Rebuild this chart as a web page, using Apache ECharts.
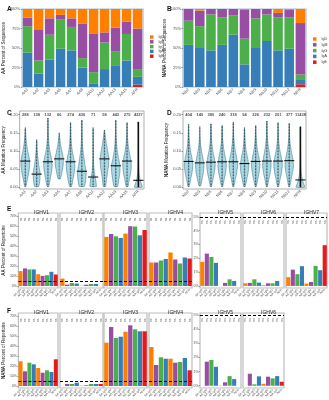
<!DOCTYPE html>
<html>
<head>
<meta charset="utf-8">
<script src="https://cdn.jsdelivr.net/npm/echarts@6/dist/echarts.min.js"></script>
<style>
html, body { margin: 0; padding: 0; background: #fff; }
#main { width: 329px; height: 400px; }
</style>
</head>
<body>
<div id="main"></div>
<script>
// isotype colours (legend order, top to bottom)
var isoNames = ['IgD', 'IgM', 'IgG', 'IgA', 'IgE'];
var isoColors = { IgD: '#FF7F00', IgM: '#984EA3', IgG: '#4DAF4A', IgA: '#377EB8', IgE: '#E41A1C' };

// panel A / B : percent of sequences
var aSamples = ['AA1', 'AA2', 'AA3', 'AA5', 'AA7', 'AA8', 'AA11', 'AA12', 'AA13', 'AA15', 'AFR'];
var aIgE = [0, 0, 0, 0, 0, 0, 0, 0, 0, 0, 3];
var aIgA = [44, 17, 35, 49, 47, 25, 4, 23, 27, 34, 10];
var aIgG = [34, 17, 32, 38, 30, 12, 15, 34, 19, 34, 10];
var aIgM = [11, 40, 21, 5.5, 11, 44.5, 49, 13, 30, 16, 52];
var aIgD = [11, 26, 12, 7.5, 12, 18.5, 32, 30, 24, 16, 25];

var bSamples = ['NB2', 'NB3', 'NB5', 'NB6', 'NB7', 'NB8', 'NB9', 'NB10', 'NB11', 'NB12', 'NPR'];
var bIgE = [0, 0, 0, 0, 0, 0, 0, 0, 0, 0, 3.5];
var bIgA = [54, 50, 47, 54, 67, 29, 50, 59, 47, 49, 6.5];
var bIgG = [31, 28, 46, 35, 25, 33, 38, 34, 42, 40, 6];
var bIgM = [15, 20, 7, 11, 8, 37, 12, 7, 6, 10, 66];
var bIgD = [0, 2, 0, 0, 0, 1, 0, 0, 5, 1, 18];

// panel C / D : mutation frequency violins
var densityLevels = [0, 0.02, 0.04, 0.06, 0.08, 0.10, 0.12, 0.14, 0.16, 0.18, 0.20];

var cCounts = [288, 138, 132, 66, 274, 436, 71, 58, 443, 275, 4327];
var cMedian = [0.072, 0.036, 0.070, 0.078, 0.070, 0.044, 0.028, 0.078, 0.059, 0.072, 0.019];
var cLow = [0.002, 0.002, 0.002, 0.023, 0.002, 0.002, 0.002, 0.002, 0.002, 0.002, 0.0];
var cHigh = [0.164, 0.131, 0.190, 0.150, 0.178, 0.185, 0.164, 0.157, 0.185, 0.178, 0.180];
var cDensity = [
    [0.1, 0.45, 0.8, 1, 0.92, 0.55, 0.28, 0.12, 0.03, 0, 0],
    [0.45, 0.75, 0.8, 0.5, 0.28, 0.13, 0.05, 0, 0, 0, 0],
    [0.15, 0.5, 0.8, 1, 0.8, 0.45, 0.22, 0.1, 0.05, 0.02, 0],
    [0, 0.2, 0.6, 0.9, 0.95, 0.6, 0.28, 0.08, 0, 0, 0],
    [0.2, 0.55, 0.85, 1, 0.75, 0.4, 0.2, 0.09, 0.04, 0.015, 0],
    [0.55, 0.9, 1, 0.75, 0.5, 0.27, 0.13, 0.07, 0.03, 0.01, 0],
    [0.75, 0.6, 0.28, 0.13, 0.07, 0.05, 0.04, 0.02, 0.01, 0, 0],
    [0.25, 0.45, 0.7, 0.95, 1, 0.75, 0.45, 0.2, 0.03, 0, 0],
    [0.4, 0.7, 0.95, 1, 0.65, 0.35, 0.18, 0.09, 0.04, 0.01, 0],
    [0.2, 0.5, 0.85, 1, 0.8, 0.45, 0.22, 0.09, 0.04, 0.01, 0],
    [0.9, 0.4, 0.15, 0.08, 0.05, 0.04, 0.03, 0.02, 0.01, 0.005, 0]
];

var dCounts = [404, 140, 380, 240, 318, 94, 226, 232, 201, 377, 11438];
var dMedian = [0.071, 0.067, 0.069, 0.070, 0.070, 0.065, 0.071, 0.072, 0.072, 0.073, 0.020];
var dLow = [0.002, 0.004, 0.002, 0.002, 0.002, 0.002, 0.002, 0.002, 0.002, 0.002, 0.0];
var dHigh = [0.173, 0.167, 0.175, 0.170, 0.180, 0.164, 0.170, 0.182, 0.178, 0.176, 0.167];
var dDensity = [
    [0.1, 0.45, 0.8, 1, 0.8, 0.45, 0.22, 0.09, 0.03, 0, 0],
    [0.15, 0.5, 0.85, 1, 0.75, 0.4, 0.18, 0.07, 0.02, 0, 0],
    [0.1, 0.45, 0.8, 1, 0.8, 0.45, 0.22, 0.09, 0.035, 0, 0],
    [0.1, 0.45, 0.82, 1, 0.8, 0.45, 0.22, 0.09, 0.03, 0, 0],
    [0.1, 0.42, 0.8, 1, 0.8, 0.47, 0.24, 0.1, 0.045, 0.01, 0],
    [0.15, 0.5, 0.85, 1, 0.75, 0.4, 0.18, 0.07, 0.02, 0, 0],
    [0.1, 0.45, 0.8, 1, 0.8, 0.45, 0.22, 0.09, 0.03, 0, 0],
    [0.1, 0.42, 0.8, 1, 0.82, 0.5, 0.25, 0.1, 0.045, 0.01, 0],
    [0.1, 0.45, 0.8, 1, 0.8, 0.45, 0.22, 0.09, 0.035, 0.01, 0],
    [0.1, 0.42, 0.78, 1, 0.82, 0.47, 0.23, 0.09, 0.035, 0, 0],
    [1, 0.45, 0.18, 0.1, 0.06, 0.04, 0.03, 0.02, 0.01, 0, 0]
];

// panel E / F : percent of repertoire per IGHV family
var genes = ['IGHV1', 'IGHV2', 'IGHV3', 'IGHV4', 'IGHV5', 'IGHV6', 'IGHV7'];
var facetGroups = ['AA IgD', 'AA IgM', 'AA IgG', 'AA IgA', 'NA IgD', 'NA IgM', 'NA IgG', 'NA IgA', 'AFR'];
var facetIso = ['IgD', 'IgM', 'IgG', 'IgA', 'IgD', 'IgM', 'IgG', 'IgA', 'IgE'];
var sigText = 'ns';

var eV1 = [14.9, 17.6, 16.6, 16.6, 11.8, 10.1, 10.8, 14.2, 11.5];
var eV2 = [7.4, 1.4, 3, 2.4, 0.3, 1.3, 2, 2, 0];
var eV3 = [49, 52, 49.7, 48, 52.4, 59.8, 59.5, 50.7, 56];
var eV4 = [23.5, 23.5, 25.5, 27, 33.5, 26.5, 22.5, 28.5, 27.5];
var eV5 = [1.74, 2.34, 2.1, 1.67, 0, 0.22, 0.48, 0.36, 0];
var eV6 = [0.19, 0.22, 0.48, 0.24, 0.05, 0.19, 0.19, 0.36, 0];
var eV7 = [0.63, 1.18, 0.85, 1.43, 0.17, 0.29, 1.45, 1.14, 2.95];

var fV1 = [24.7, 14.7, 23.3, 21.7, 18, 13.3, 15.7, 14, 26.7];
var fV2 = [0, 2, 2, 3.3, 0.3, 0.7, 2, 2, 2];
var fV3 = [43.3, 59, 48, 49.3, 54.3, 60.7, 56.7, 54.7, 54.7];
var fV4 = [39, 21, 28.7, 27.3, 27.3, 23.3, 24, 28, 15.7];
var fV5 = [0, 1.7, 1.82, 1.34, 0.02, 0.24, 0.68, 0.47, 0];
var fV6 = [0, 0.85, 0.1, 0.66, 0.14, 0.64, 0.52, 0.68, 0.28];

var bigTicks = [0, 10, 20, 30, 40, 50, 60, 70];
var smallTicks = [0, 1, 2, 3, 4, 5];

var grids = [], xAxes = [], yAxes = [], series = [], titles = [];
var labelColor = '#4d4d4d';

function addGrid(g, x, y) {
    grids.push(g);
    var gi = grids.length - 1;
    x.gridIndex = gi;
    y.gridIndex = gi;
    xAxes.push(x);
    yAxes.push(y);
    return gi;
}

function yName(bold, rest) {
    return '{b|' + bold + '} ' + rest;
}
var nameStyle = { fontSize: 4.5, color: '#222', rich: { b: { fontSize: 4.5, fontWeight: 'bold', color: '#222' } } };

// ---------- A and B : stacked bars ----------
function stackPanel(rect, samples, data, title, stackId) {
    var gi = addGrid(
        Object.assign({ show: true, borderColor: '#a7bccf', borderWidth: 1.2 }, rect),
        {
            type: 'category', data: samples,
            axisLine: { show: false },
            axisTick: { length: 1.5, lineStyle: { color: '#555', width: 0.6 } },
            axisLabel: { fontSize: 4, rotate: 45, interval: 0, margin: 2, color: labelColor }
        },
        {
            type: 'value', min: 0, max: 100, interval: 25,
            axisLine: { show: false },
            axisTick: { show: true, length: 1.5, lineStyle: { color: '#555', width: 0.6 } },
            axisLabel: { fontSize: 4, margin: 2, color: labelColor, formatter: '{value}%' },
            splitLine: { show: false },
            name: title, nameLocation: 'middle', nameRotate: 90, nameGap: 12, nameTextStyle: nameStyle
        });
    ['IgE', 'IgA', 'IgG', 'IgM', 'IgD'].forEach(function (iso) {
        series.push({
            type: 'bar', name: iso, stack: stackId,
            xAxisIndex: gi, yAxisIndex: gi,
            barCategoryGap: '14%',
            itemStyle: { color: isoColors[iso] },
            data: data[iso]
        });
    });
}

stackPanel({ left: 22, top: 9, width: 121, height: 78 }, aSamples,
    { IgD: aIgD, IgM: aIgM, IgG: aIgG, IgA: aIgA, IgE: aIgE },
    yName('AA', 'Percent of Sequences'), 'A');
stackPanel({ left: 183, top: 9, width: 123, height: 78 }, bSamples,
    { IgD: bIgD, IgM: bIgM, IgG: bIgG, IgA: bIgA, IgE: bIgE },
    yName('NANA', 'Percent of Sequences'), 'B');

// ---------- C and D : violins ----------
function densAt(d, y) {
    var idx = y / 0.02, k = Math.floor(idx), t = idx - k;
    if (k >= d.length - 1) return d[d.length - 1];
    return d[k] * (1 - t) + d[k + 1] * t;
}

function violinPanel(rect, samples, counts, med, lo, hi, dens, title) {
    var gi = addGrid(
        Object.assign({ show: true, borderColor: '#9a9a9a', borderWidth: 0.8 }, rect),
        {
            type: 'category', data: samples,
            axisLine: { show: false },
            axisTick: { length: 1.5, lineStyle: { color: '#555', width: 0.6 } },
            axisLabel: { fontSize: 4, rotate: 45, interval: 0, margin: 2, color: labelColor }
        },
        {
            type: 'value', min: -0.005, max: 0.21,
            axisLine: { show: false },
            axisTick: { show: true, length: 1.5, customValues: [0, 0.05, 0.1, 0.15, 0.2], lineStyle: { color: '#555', width: 0.6 } },
            axisLabel: {
                fontSize: 4, margin: 2, color: labelColor, customValues: [0, 0.05, 0.1, 0.15, 0.2],
                formatter: function (v) { return v.toFixed(2); }
            },
            splitLine: { show: false },
            name: title, nameLocation: 'middle', nameRotate: 90, nameGap: 11, nameTextStyle: nameStyle
        });
    series.push({
        type: 'custom', xAxisIndex: gi, yAxisIndex: gi,
        data: med.map(function (m, i) { return [i, m]; }),
        encode: { x: 0, y: 1 },
        renderItem: function (params, api) {
            var i = api.value(0);
            var band = api.size([1, 0])[0];
            var cx = api.coord([i, 0])[0];
            var half = band * 0.38;
            var d = dens[i];
            var ys = [lo[i]];
            densityLevels.forEach(function (l) { if (l > lo[i] && l < hi[i]) ys.push(l); });
            ys.push(hi[i]);
            var right = [], left = [];
            ys.forEach(function (y, k) {
                var w = k === ys.length - 1 ? 0 : densAt(d, y) * half;
                var py = api.coord([i, y])[1];
                right.push([cx + w, py]);
                left.unshift([cx - w, py]);
            });
            var last = i === med.length - 1;
            var pm = api.coord([i, api.value(1)])[1];
            var pLo = api.coord([i, lo[i]])[1], pHi = api.coord([i, hi[i]])[1];
            return {
                type: 'group',
                children: [
                    {
                        type: 'polygon', shape: { points: right.concat(left), smooth: 0.12 },
                        style: { fill: '#aad7e3', stroke: '#2f6f80', lineWidth: 0.5 }
                    },
                    {
                        type: 'line', shape: { x1: cx, y1: pLo, x2: cx, y2: pHi },
                        style: last ? { stroke: '#111', lineWidth: 1.6 }
                                    : { stroke: '#1e3d47', lineWidth: 1.3, lineDash: [0.6, 0.9] }
                    },
                    {
                        type: 'line', shape: { x1: cx - band * 0.45, y1: pm, x2: cx + band * 0.45, y2: pm },
                        style: { stroke: '#000', lineWidth: 1 }
                    }
                ]
            };
        }
    });
    series.push({
        type: 'scatter', xAxisIndex: gi, yAxisIndex: gi, symbolSize: 0, silent: true,
        data: counts.map(function (c, i) { return [i, 0.2, c]; }),
        label: {
            show: true, position: 'inside', fontSize: 4, fontWeight: 'bold', color: '#222',
            formatter: function (p) { return String(p.value[2]); }
        }
    });
}

violinPanel({ left: 19, top: 111, width: 125, height: 78 }, aSamples, cCounts, cMedian, cLow, cHigh, cDensity,
    yName('AA', 'Mutation Frequency'));
violinPanel({ left: 183, top: 111, width: 123, height: 78 }, bSamples, dCounts, dMedian, dLow, dHigh, dDensity,
    yName('NANA', 'Mutation Frequency'));

// ---------- E and F : faceted bars ----------
function facet(rect, vals, gene, ymin, ymax, ticks, showY, title, annY) {
    var gi = addGrid(
        Object.assign({ show: true, borderColor: '#bdbdbd', borderWidth: 1.2 }, rect),
        {
            type: 'category', data: facetGroups,
            axisLine: { show: false },
            axisTick: { length: 1, lineStyle: { color: '#555', width: 0.5 } },
            axisLabel: { fontSize: 3, rotate: 45, interval: 0, margin: 1.5, color: labelColor }
        },
        {
            type: 'value', min: ymin, max: ymax,
            axisLine: { show: false },
            axisTick: { show: showY, length: 1.2, customValues: ticks, lineStyle: { color: '#555', width: 0.5 } },
            axisLabel: { show: showY, fontSize: 3.5, margin: 1.5, color: labelColor, customValues: ticks, formatter: '{value}%' },
            splitLine: { show: false },
            name: title || '', nameLocation: 'middle', nameRotate: 90, nameGap: 9, nameTextStyle: nameStyle
        });
    series.push({
        type: 'bar', xAxisIndex: gi, yAxisIndex: gi, barCategoryGap: '10%',
        data: vals.map(function (v, i) { return { value: v, itemStyle: { color: isoColors[facetIso[i]] } }; }),
        markLine: {
            silent: true, symbol: 'none', label: { show: false },
            lineStyle: { color: '#000', type: [3, 2], width: 1 },
            data: [{ yAxis: 5 }]
        }
    });
    series.push({
        type: 'scatter', xAxisIndex: gi, yAxisIndex: gi, symbolSize: 0, silent: true,
        data: vals.map(function (v, i) { return [i, annY]; }),
        label: { show: true, position: 'inside', rotate: 90, fontSize: 3.5, color: '#333', formatter: sigText }
    });
    titles.push({
        text: gene, left: rect.left + rect.width / 2, top: rect.top - 8, textAlign: 'center',
        textStyle: { fontSize: 5, fontWeight: 'normal', color: '#222' }
    });
}

var bigLefts = [15, 60, 104, 149];
var smallLefts = [200, 243, 286];
var eBig = [eV1, eV2, eV3, eV4], eSmall = [eV5, eV6, eV7];
var fBig = [fV1, fV2, fV3, fV4], fSmall = [fV5, fV6];

eBig.forEach(function (v, k) {
    facet({ left: bigLefts[k], top: 213, width: 43, height: 75 }, v, genes[k], -2, 73, bigTicks, k === 0,
        k === 0 ? yName('AA', 'Percent of Repertoire') : '', 66.5);
});
eSmall.forEach(function (v, k) {
    facet({ left: smallLefts[k], top: 213, width: 41, height: 75 }, v, genes[4 + k], -0.15, 5.28, smallTicks, k === 0, '', 4.62);
});
fBig.forEach(function (v, k) {
    facet({ left: bigLefts[k], top: 313, width: 43, height: 75 }, v, genes[k], -2, 73, bigTicks, k === 0,
        k === 0 ? yName('NANA', 'Percent of Repertoire') : '', 65.7);
});
fSmall.forEach(function (v, k) {
    facet({ left: smallLefts[k], top: 313, width: 41, height: 75 }, v, genes[4 + k], -0.16, 5.14, smallTicks, k === 0, '', 4.65);
});

// panel letters
[['A', 2, 1], ['B', 162, 1], ['C', 2, 105], ['D', 162, 105], ['E', 2, 201], ['F', 2, 303]].forEach(function (p) {
    titles.push({ text: p[0], left: p[1], top: p[2], textStyle: { fontSize: 6.5, fontWeight: 'bold', color: '#111' } });
});

var chart = echarts.init(document.getElementById('main'));
chart.setOption({
    animation: false,
    textStyle: { fontFamily: 'Liberation Sans, Arial, sans-serif' },
    title: titles,
    legend: [
        {
            left: 150, top: 35, orient: 'vertical', padding: 0, itemGap: 0.8,
            itemWidth: 3.5, itemHeight: 3.5, icon: 'rect', data: isoNames,
            textStyle: { fontSize: 3.5, color: '#333' }, selectedMode: false
        },
        {
            left: 313, top: 37, orient: 'vertical', padding: 0, itemGap: 1.8,
            itemWidth: 3.5, itemHeight: 3.5, icon: 'rect', data: isoNames,
            textStyle: { fontSize: 3.5, color: '#333' }, selectedMode: false
        }
    ],
    grid: grids,
    xAxis: xAxes,
    yAxis: yAxes,
    series: series
});
</script>
</body>
</html>
